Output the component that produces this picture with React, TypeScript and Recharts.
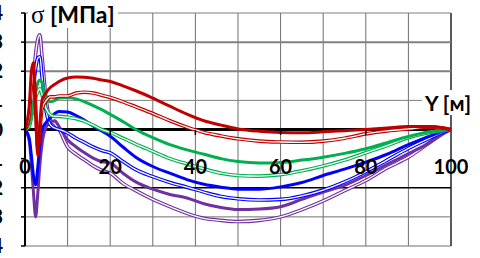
import { LineChart, Line, XAxis, YAxis, ReferenceLine } from 'recharts';

// distance along Y [m]
const Y_POS = [0, 1, 1.5, 2, 2.5, 3, 3.5, 4, 5, 6, 7, 8, 10, 12, 14, 16, 18, 20, 23, 26, 30, 34, 38, 42, 46, 50, 55, 60, 65, 70, 75, 80, 85, 90, 95, 98, 100];

// stress sigma [MPa]
const RED_SOLID = [0, 0.8, 2.0, 2.3, 0.5, -0.9, 0.2, 1.0, 1.27, 1.45, 1.55, 1.65, 1.77, 1.8, 1.79, 1.76, 1.7, 1.65, 1.5, 1.33, 1.08, 0.8, 0.53, 0.3, 0.15, 0.02, -0.06, -0.1, -0.11, -0.08, -0.04, 0, 0.05, 0.1, 0.1, 0.06, 0];
const RED_DOUBLE = [0, 0.5, 1.5, 2.0, 0.8, -0.6, 0, 0.7, 1.0, 1.12, 1.12, 1.15, 1.15, 1.25, 1.28, 1.25, 1.18, 1.1, 0.95, 0.78, 0.55, 0.3, 0.08, -0.1, -0.22, -0.32, -0.4, -0.43, -0.44, -0.4, -0.3, -0.15, -0.05, 0.02, 0.08, 0.05, 0];
const GREEN_SOLID = [0, 0.2, 0.5, 0.9, 1.3, 1.6, 1.7, 1.6, 1.1, 0.95, 1.0, 1.08, 1.1, 1.05, 0.95, 0.82, 0.68, 0.52, 0.27, 0.0, -0.28, -0.52, -0.7, -0.85, -1.0, -1.1, -1.15, -1.13, -1.05, -0.95, -0.82, -0.66, -0.45, -0.24, -0.08, -0.02, 0];
const GREEN_DOUBLE = [0, 0.1, 0.4, 0.8, 1.1, 1.3, 1.4, 1.2, 0.7, 0.5, 0.45, 0.45, 0.42, 0.37, 0.28, 0.15, 0.0, -0.1, -0.3, -0.5, -0.75, -1.0, -1.18, -1.35, -1.5, -1.58, -1.6, -1.55, -1.42, -1.25, -1.05, -0.8, -0.55, -0.28, -0.1, -0.03, 0];
const BLUE_SOLID = [0, -0.3, -0.9, -1.6, -1.9, -1.3, -0.5, 0.0, 0.25, 0.4, 0.55, 0.62, 0.6, 0.48, 0.32, 0.12, -0.05, -0.23, -0.6, -0.95, -1.27, -1.5, -1.72, -1.88, -1.98, -2.05, -2.05, -1.97, -1.82, -1.58, -1.36, -1.12, -0.85, -0.52, -0.23, -0.06, 0];
const BLUE_DOUBLE = [0, 0.3, 0.8, 1.5, 2.1, 2.45, 2.5, 1.8, 0.6, 0.15, 0.05, 0.0, -0.12, -0.3, -0.45, -0.6, -0.72, -0.8, -1.1, -1.38, -1.62, -1.82, -1.98, -2.15, -2.3, -2.38, -2.42, -2.4, -2.28, -2.08, -1.8, -1.45, -1.05, -0.65, -0.3, -0.1, 0];
const PURPLE_SOLID = [0, -0.4, -1.2, -2.2, -3.0, -2.2, -1.2, -0.5, 0.1, 0.25, 0.3, 0.1, -0.35, -0.6, -0.8, -0.98, -1.1, -1.15, -1.5, -1.8, -2.05, -2.23, -2.35, -2.55, -2.68, -2.75, -2.73, -2.65, -2.4, -2.15, -1.92, -1.58, -1.2, -0.83, -0.45, -0.15, 0];
const PURPLE_DOUBLE = [0, 0.4, 1.0, 1.8, 2.6, 3.1, 3.25, 2.5, 1.0, 0.3, 0.2, 0.0, -0.6, -0.85, -1.05, -1.25, -1.4, -1.5, -1.85, -2.1, -2.4, -2.65, -2.88, -3.05, -3.12, -3.16, -3.12, -3.0, -2.75, -2.45, -2.1, -1.75, -1.32, -0.95, -0.45, -0.15, 0];

const X_TICKS = [0, 20, 40, 60, 80, 100];
const Y_TICKS = [-4, -3, -2, -1, 0, 1, 2, 3, 4];
const GRID_X = [10, 20, 30, 40, 50, 60, 70, 80, 90];

const RED = '#c00000';
const GREEN = '#00b050';
const BLUE = '#0000ff';
const PURPLE = '#7030a0';

const data = Y_POS.map((x, i) => ({
  x,
  redSolid: RED_SOLID[i],
  redDouble: RED_DOUBLE[i],
  greenSolid: GREEN_SOLID[i],
  greenDouble: GREEN_DOUBLE[i],
  blueSolid: BLUE_SOLID[i],
  blueDouble: BLUE_DOUBLE[i],
  purpleSolid: PURPLE_SOLID[i],
  purpleDouble: PURPLE_DOUBLE[i],
}));

const LABEL_FONT = 'Lato, "Liberation Sans", sans-serif';

// x labels sit just under the zero line, not at the bottom of the plot
function XTick({ x, y, payload }: any) {
  const v = payload.value;
  return (
    <g>
      {v > 0 && v < 100 && <line x1={x} x2={x} y1={y - 116} y2={y - 111} stroke="#000" strokeWidth={1.5} />}
      <text x={x} y={y - 72} textAnchor="middle" fill="#000" fontSize={20} fontWeight={700} fontFamily={LABEL_FONT}>
        {v}
      </text>
    </g>
  );
}

function solid(key: string, color: string) {
  return (
    <Line key={key} dataKey={key} type="monotone" stroke={color} strokeWidth={3} dot={false} activeDot={false} isAnimationActive={false} />
  );
}

// hollow line: coloured outline with a white core
function hollow(key: string, color: string) {
  return [
    <Line key={key + 'o'} dataKey={key} type="monotone" stroke={color} strokeWidth={3.6} dot={false} activeDot={false} isAnimationActive={false} />,
    <Line key={key + 'i'} dataKey={key} type="monotone" stroke="#fff" strokeWidth={1.3} dot={false} activeDot={false} isAnimationActive={false} />,
  ];
}

export default function App() {
  return (
    <div style={{ position: 'absolute', left: 0, top: 0, width: 480, height: 258, overflow: 'hidden', background: '#fff' }}>
      <LineChart width={480} height={258} data={data} margin={{ top: 13, right: 29, bottom: 11, left: 0 }}>
        <XAxis
          type="number"
          dataKey="x"
          domain={[0, 100]}
          ticks={X_TICKS}
          interval={0}
          height={1}
          axisLine={false}
          tickLine={false}
          tickSize={0}
          tickMargin={0}
          tick={(p: any) => <XTick {...p} />}
        />
        <YAxis
          type="number"
          domain={[-4, 4]}
          ticks={Y_TICKS}
          interval={0}
          width={25}
          axisLine={{ stroke: '#000', strokeWidth: 2 }}
          tickLine={{ stroke: '#000', strokeWidth: 1.5 }}
          tickSize={4}
          tickMargin={18}
          tick={{ fill: '#000', fontSize: 20, fontWeight: 700, fontFamily: LABEL_FONT }}
        />
        {GRID_X.map((v) => (
          <ReferenceLine key={'gx' + v} x={v} stroke="#6f6f6f" strokeWidth={1} />
        ))}
        <ReferenceLine x={100} stroke="#222" strokeWidth={1.5} />
        <ReferenceLine y={4} stroke="#7f7f7f" strokeWidth={1} />
        <ReferenceLine y={3} stroke="#808080" strokeWidth={2} />
        <ReferenceLine y={2} stroke="#808080" strokeWidth={2} />
        <ReferenceLine y={1} stroke="#7f7f7f" strokeWidth={1} />
        <ReferenceLine y={-2} stroke="#000" strokeWidth={1.5} />
        <ReferenceLine y={-3} stroke="#6f6f6f" strokeWidth={1} />
        <ReferenceLine y={-4} stroke="#6f6f6f" strokeWidth={1} />
        <ReferenceLine y={0} stroke="#000" strokeWidth={3} />
        {hollow('purpleDouble', PURPLE)}
        {solid('purpleSolid', PURPLE)}
        {hollow('blueDouble', BLUE)}
        {solid('blueSolid', BLUE)}
        {hollow('greenDouble', GREEN)}
        {solid('greenSolid', GREEN)}
        {hollow('redDouble', RED)}
        {solid('redSolid', RED)}
      </LineChart>
      <div
        style={{
          position: 'absolute',
          left: 28,
          top: 1,
          padding: '0 3px',
          background: '#fff',
          fontFamily: LABEL_FONT,
          fontWeight: 700,
          fontSize: 23,
          lineHeight: '26px',
          color: '#000',
          whiteSpace: 'nowrap',
        }}
      >
        <span style={{ fontFamily: '"Liberation Serif", serif', fontWeight: 400, fontSize: 25 }}>σ</span> [МПа]
      </div>
      <div
        style={{
          position: 'absolute',
          left: 422,
          top: 90,
          padding: '0 3px',
          background: '#fff',
          fontFamily: LABEL_FONT,
          fontWeight: 700,
          fontSize: 21,
          lineHeight: '25px',
          color: '#000',
          whiteSpace: 'nowrap',
        }}
      >
        Y [м]
      </div>
    </div>
  );
}
